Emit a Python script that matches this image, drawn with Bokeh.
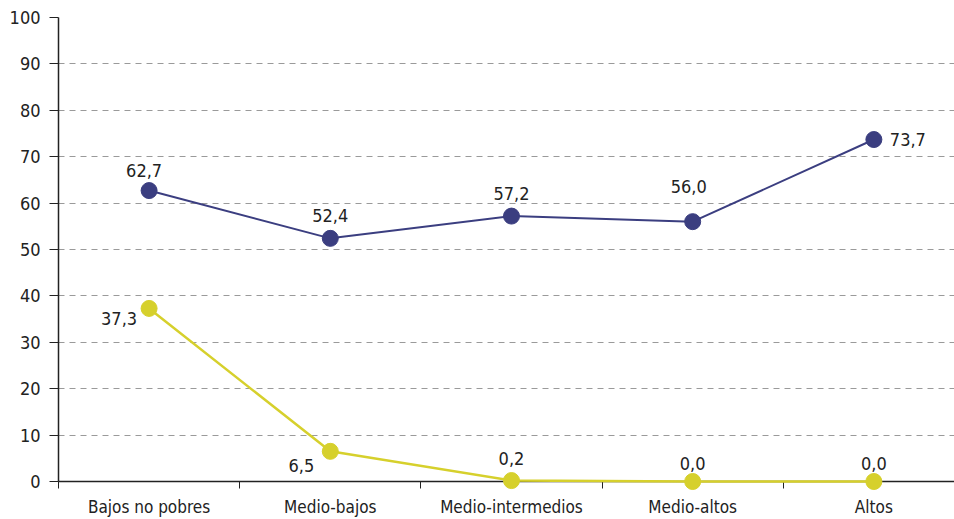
from bokeh.plotting import figure
from bokeh.models import ColumnDataSource, FixedTicker, Range1d
from bokeh.core.properties import value
from bokeh.embed import file_html
from bokeh.resources import INLINE

categories = ["Bajos no pobres", "Medio-bajos", "Medio-intermedios", "Medio-altos", "Altos"]
serie_a = [62.7, 52.4, 57.2, 56.0, 73.7]
serie_b = [37.3, 6.5, 0.2, 0.0, 0.0]
y_ticks = [0, 10, 20, 30, 40, 50, 60, 70, 80, 90, 100]

FONT = "'DejaVu Sans Condensed', Roboto, sans-serif"
NAVY = "#3b3e80"
YELLOW = "#d6d02c"

xs = list(range(len(categories)))

p = figure(width=954, height=519, output_backend="svg", toolbar_location=None,
           x_range=Range1d(-0.5, 4.445), y_range=Range1d(0, 100),
           min_border_left=58, min_border_right=0, min_border_top=17, min_border_bottom=37)
p.outline_line_color = None
p.background_fill_color = "white"

# axes
p.xaxis.ticker = FixedTicker(ticks=xs, minor_ticks=[i + 0.5 for i in xs] + [-0.5])
p.xaxis.major_label_overrides = {i: c for i, c in enumerate(categories)}
p.xaxis.major_tick_out = 0
p.xaxis.major_tick_in = 0
p.xaxis.minor_tick_out = 7
p.xaxis.minor_tick_in = 0
p.xaxis.minor_tick_line_color = "#222222"
p.xaxis.axis_line_color = "#222222"
p.xaxis.axis_line_width = 1.5
p.xaxis.major_label_text_font = FONT
p.xaxis.major_label_text_font_size = "17px"
p.xaxis.major_label_text_color = "#222222"
p.xaxis.major_label_standoff = 8

p.yaxis.ticker = FixedTicker(ticks=y_ticks)
p.yaxis.major_tick_out = 9
p.yaxis.major_tick_in = 0
p.yaxis.minor_tick_out = 0
p.yaxis.minor_tick_in = 0
p.yaxis.axis_line_color = "#222222"
p.yaxis.axis_line_width = 1.5
p.yaxis.major_tick_line_color = "#222222"
p.yaxis.major_label_text_font = FONT
p.yaxis.major_label_text_font_size = "18px"
p.yaxis.major_label_text_color = "#222222"
p.yaxis.major_label_standoff = 9

p.xgrid.grid_line_color = None
p.ygrid.ticker = FixedTicker(ticks=y_ticks[1:])
p.ygrid.grid_line_color = "#9a9a9a"
p.ygrid.grid_line_dash = "6 5"
p.ygrid.grid_line_width = 1

src = ColumnDataSource(dict(x=xs, a=serie_a, b=serie_b,
                            la=[f"{v:.1f}".replace(".", ",") for v in serie_a],
                            lb=[f"{v:.1f}".replace(".", ",") for v in serie_b]))

renderers = [
    p.line("x", "a", source=src, line_color=NAVY, line_width=2),
    p.scatter("x", "a", source=src, size=16, fill_color=NAVY, line_color=NAVY),
    p.line("x", "b", source=src, line_color=YELLOW, line_width=2.5),
    p.scatter("x", "b", source=src, size=16, fill_color=YELLOW, line_color=YELLOW),
]
for r in renderers:
    r.level = "overlay"

# label placements (style): (x_offset, y_offset, align) per point
place_a = [(-5, -20, "center"), (0, -23, "center"), (0, -23, "center"), (-4, -35, "center"), (16, 0, "left")]
place_b = [(-12, 10, "right"), (-16, 14, "right"), (0, -22, "center"), (0, -18, "center"), (0, -18, "center")]

for key, lab, place in (("a", "la", place_a), ("b", "lb", place_b)):
    for i, (dx, dy, al) in enumerate(place):
        s = ColumnDataSource(dict(x=[xs[i]], y=[src.data[key][i]], t=[src.data[lab][i]]))
        p.text("x", "y", text="t", source=s, x_offset=dx, y_offset=dy,
               text_align=al, text_baseline="middle",
               text_font=value(FONT), text_font_size="18px", text_color="#222222")

open("out.html", "w").write(file_html(p, INLINE))
